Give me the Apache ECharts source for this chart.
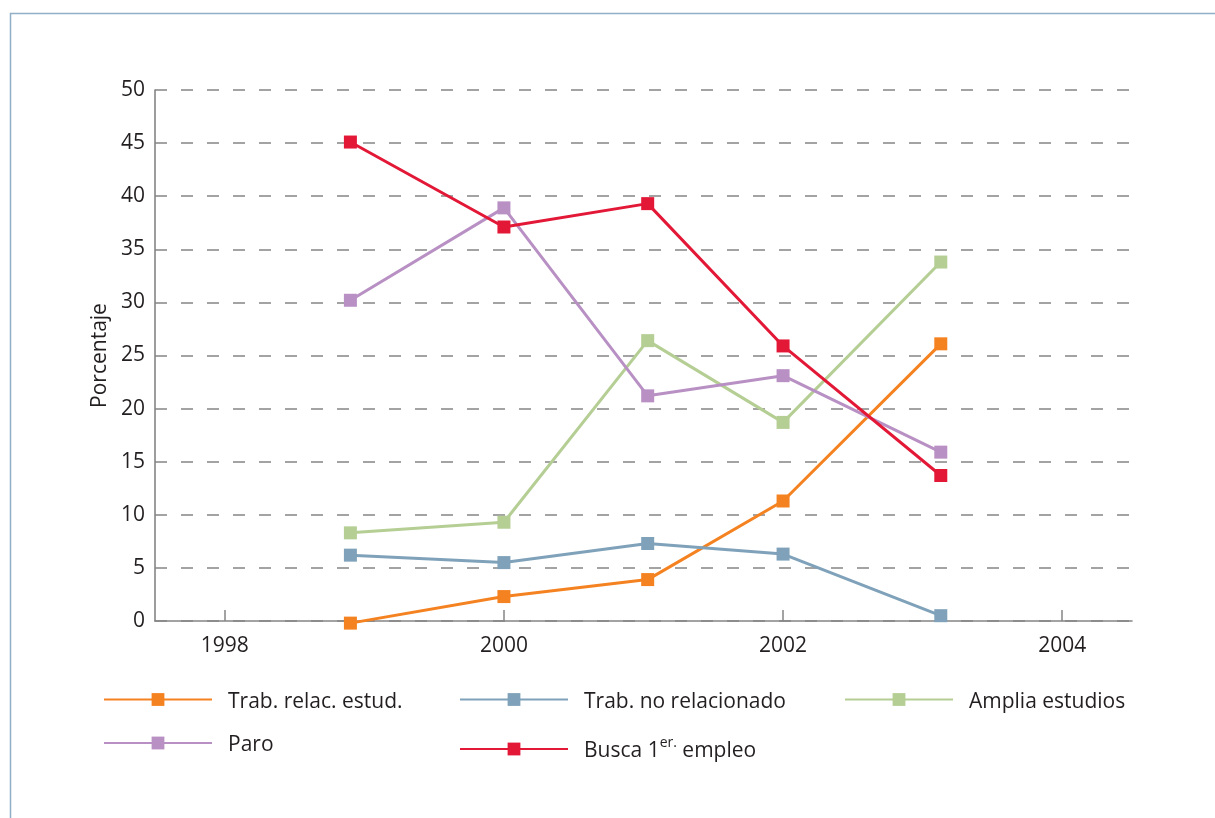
<!DOCTYPE html>
<html><head><meta charset="utf-8">
<script src="https://cdn.jsdelivr.net/npm/echarts@6/dist/echarts.min.js"></script>
<style>html,body{margin:0;padding:0;background:#fff}#c{width:1215px;height:818px}</style>
</head><body><div id="c"></div>
<script>
const years = [1998.9, 2000, 2001.03, 2002, 2003.13];
const xTicks = [1998, 2000, 2002, 2004];
const yTicks = [0, 5, 10, 15, 20, 25, 30, 35, 40, 45, 50];
const seriesNames = ['Trab. relac. estud.', 'Trab. no relacionado', 'Amplia estudios', 'Paro', 'Busca 1er. empleo'];
const trabRelac = [-0.2, 2.3, 3.9, 11.3, 26.1];
const trabNoRel = [6.2, 5.5, 7.3, 6.3, 0.5];
const ampliaEst = [8.3, 9.3, 26.4, 18.7, 33.8];
const paro = [30.2, 38.9, 21.2, 23.1, 15.9];
const busca = [45.1, 37.1, 39.3, 25.9, 13.7];
const colors = ['#F58220', '#7FA2BA', '#B5CE94', '#B890C4', '#E31837'];
const values = [trabRelac, trabNoRel, ampliaEst, paro, busca];

const font = 'Open Sans';
const txt = '#231F20';
const legendPos = [
  {left: 103, top: 691.5}, {left: 459, top: 691.5}, {left: 844, top: 691.5},
  {left: 103, top: 735}, {left: 459, top: 736}
];

const chart = echarts.init(document.getElementById('c'), null, {renderer: 'canvas'});
chart.setOption({
  animation: false,
  backgroundColor: '#fff',
  textStyle: {fontFamily: font},
  graphic: [{
    type: 'rect', shape: {x: 10.5, y: 13.5, width: 1300, height: 900},
    style: {fill: 'none', stroke: '#8FB0C8', lineWidth: 1.5}, silent: true
  }],
  grid: {left: 155, right: 83, top: 90, bottom: 197, containLabel: false},
  xAxis: {
    type: 'value', min: 1997.5, max: 2004.5,
    axisLine: {lineStyle: {color: '#858585', width: 1.6}},
    axisTick: {show: true, inside: true, length: 11, customValues: xTicks, lineStyle: {color: '#858585', width: 1.5}},
    axisLabel: {customValues: xTicks, color: txt, fontSize: 21, margin: 15, fontFamily: font,
      formatter: v => String(Math.round(v))},
    splitLine: {show: false}
  },
  yAxis: {
    type: 'value', min: 0, max: 50, interval: 5,
    name: 'Porcentaje', nameLocation: 'middle', nameGap: 44, nameRotate: 90,
    nameTextStyle: {color: txt, fontSize: 21, fontFamily: font},
    axisLine: {show: true, lineStyle: {color: '#858585', width: 1.6}},
    axisTick: {show: false},
    axisLabel: {color: txt, fontSize: 21, margin: 10, fontFamily: font},
    splitLine: {show: true, lineStyle: {color: '#858585', width: 1.6, type: [12, 14]}}
  },
  legend: seriesNames.map((n, i) => ({
    data: [n], left: legendPos[i].left, top: legendPos[i].top, padding: 0,
    itemWidth: 108, itemHeight: 16,
    lineStyle: {width: 2},
    formatter: name => name === 'Busca 1er. empleo' ? '{n|Busca 1}{s|er.}{n| empleo}' : '{n|' + name + '}',
    textStyle: {color: txt, fontSize: 21, fontFamily: font, padding: [0, 0, 0, 11],
      rich: {n: {fontSize: 21, color: txt, fontFamily: font, lineHeight: 26, verticalAlign: 'bottom'},
             s: {fontSize: 14, color: txt, fontFamily: font, lineHeight: 14, verticalAlign: 'top'}}}
  })),
  series: seriesNames.map((n, i) => ({
    name: n, type: 'line', clip: false,
    data: years.map((y, j) => [y, values[i][j]]),
    symbol: 'rect', symbolSize: 13,
    lineStyle: {color: colors[i], width: 3},
    itemStyle: {color: colors[i]},
    z: 2 + i
  }))
});
</script></body></html>
